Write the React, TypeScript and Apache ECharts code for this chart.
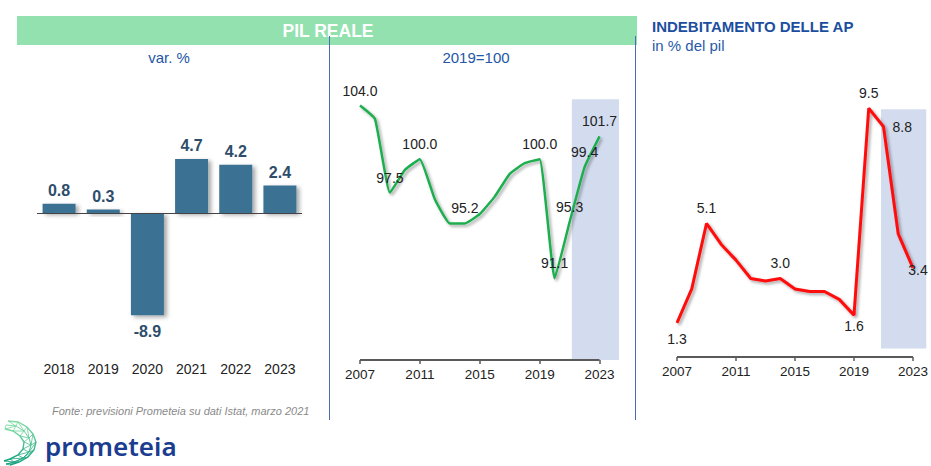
import { useEffect, useRef } from "react";
import * as echarts from "echarts";

// ---------- DATA ----------
const barYears = ["2018", "2019", "2020", "2021", "2022", "2023"];
const pilGrowth = [0.8, 0.3, -8.9, 4.7, 4.2, 2.4];

const lineYears = [2007, 2008, 2009, 2010, 2011, 2012, 2013, 2014, 2015, 2016, 2017, 2018, 2019, 2020, 2021, 2022, 2023];
const pilIndex = [104.0, 103.0, 97.5, 99.2, 100.0, 97.0, 95.2, 95.2, 95.9, 97.2, 98.9, 99.7, 100.0, 91.1, 95.3, 99.4, 101.7];
const pilLabelYears = [2007, 2009, 2011, 2014, 2019, 2020, 2021, 2022, 2023];

const deficit = [1.3, 2.6, 5.1, 4.3, 3.7, 3.0, 2.9, 3.0, 2.6, 2.5, 2.5, 2.2, 1.6, 9.5, 8.8, 4.7, 3.4];
const deficitLabelYears = [2007, 2009, 2014, 2019, 2020, 2021, 2023];

const axisTickYears = [2007, 2011, 2015, 2019, 2023];

const FONT = '"Liberation Sans", Arial, Helvetica, sans-serif';

function deficitLabel(year: number) {
  if (!deficitLabelYears.includes(year)) return { show: false };
  if (year === 2007) return { show: true, position: "bottom", distance: 8 };
  if (year === 2019) return { show: true, position: "bottom", distance: 3 };
  if (year === 2021) return { show: true, position: "right", distance: 8 };
  if (year === 2023) return { show: true, position: "inside", offset: [5, 2] };
  return { show: true, position: "top", distance: 7 };
}

// logo mesh (decorative)
const outerCurve = [[8, 421], [18, 422], [27, 427], [33, 434], [36, 442], [34, 450], [28, 457], [19, 462], [10, 465]];
const midCurve = [[6, 425], [16, 426], [24, 431], [29, 438], [31, 445], [29, 452], [23, 458], [14, 462], [6, 464]];
const innerCurve = [[5, 429], [13, 431], [20, 436], [24, 442], [23, 449], [18, 455], [10, 459], [4, 461]];

const hiddenSymbol = {
  showSymbol: true,
  symbol: "circle",
  symbolSize: 2,
  itemStyle: { color: "rgba(0,0,0,0)", borderWidth: 0 },
};

export default function App() {
  const ref = useRef<HTMLDivElement>(null);

  useEffect(() => {
    if (!ref.current) return;
    const chart = echarts.init(ref.current, undefined, { renderer: "svg" });

    const zigA: number[][] = [];
    const zigB: number[][] = [];
    for (let i = 0; i < innerCurve.length; i++) {
      zigA.push(outerCurve[i]);
      zigA.push(midCurve[i + 1]);
      zigB.push(midCurve[i]);
      zigB.push(innerCurve[i]);
    }
    zigA.push(outerCurve[outerCurve.length - 1]);

    const logoGrad = new echarts.graphic.LinearGradient(0, 0, 0, 1, [
      { offset: 0, color: "#7fdca3" },
      { offset: 1, color: "#14a07e" },
    ]);

    const option: any = {
      animation: false,
      textStyle: { fontFamily: FONT },
      grid: [
        { left: 37, right: 629, top: 144, bottom: 138 },
        { left: 360, right: 312, top: 52, bottom: 106 },
        { left: 677, right: 0, top: 69, bottom: 109 },
      ],
      xAxis: [
        {
          gridIndex: 0,
          type: "category",
          data: barYears,
          axisLine: { show: false, onZero: false },
          axisTick: { show: false },
          axisLabel: { margin: 34, fontSize: 14, color: "#222" },
        },
        {
          gridIndex: 1,
          type: "value",
          min: 2007,
          max: 2024.3,
          splitLine: { show: false },
          axisLine: { show: false, onZero: false },
          axisTick: { show: true, customValues: axisTickYears, length: 4, lineStyle: { color: "#5a5a5a", width: 1.5 } },
          axisLabel: { customValues: axisTickYears, margin: 7, fontSize: 13.5, color: "#222", formatter: (v: number) => String(v) },
        },
        {
          gridIndex: 2,
          type: "value",
          min: 2007,
          max: 2023.9,
          splitLine: { show: false },
          axisLine: { show: false, onZero: false },
          axisTick: { show: true, customValues: axisTickYears, length: 4, lineStyle: { color: "#5a5a5a", width: 1.5 } },
          axisLabel: { customValues: axisTickYears, margin: 7, fontSize: 13.5, color: "#222", formatter: (v: number) => String(v) },
        },
      ],
      yAxis: [
        { gridIndex: 0, type: "value", min: -10, max: 6, show: false },
        { gridIndex: 1, type: "value", min: 85, max: 108, show: false },
        { gridIndex: 2, type: "value", min: 0, max: 11, show: false },
      ],
      series: [
        {
          type: "bar",
          xAxisIndex: 0,
          yAxisIndex: 0,
          barWidth: 33,
          data: pilGrowth.map((v) => ({
            value: v,
            label: { position: v >= 0 ? "top" : "bottom", distance: v >= 0 ? 5 : 8 },
          })),
          itemStyle: {
            color: "#3b7192",
            shadowColor: "rgba(0,0,0,0.35)",
            shadowBlur: 4,
            shadowOffsetX: 3,
            shadowOffsetY: 2,
          },
          label: {
            show: true,
            fontSize: 16,
            fontWeight: "bold",
            color: "#2e4d6b",
            formatter: (p: any) => Number(p.value).toFixed(1),
          },
          markLine: {
            silent: true,
            symbol: "none",
            label: { show: false },
            lineStyle: { color: "#444", width: 1, type: "solid" },
            data: [{ yAxis: 0 }],
          },
        },
        {
          type: "line",
          xAxisIndex: 1,
          yAxisIndex: 1,
          ...hiddenSymbol,
          smooth: 0.12,
          data: lineYears.map((y, i) => ({
            value: [y, pilIndex[i]],
            label: { show: pilLabelYears.includes(y) },
          })),
          lineStyle: {
            color: "#1fae4f",
            width: 2.5,
            shadowColor: "rgba(0,0,0,0.35)",
            shadowBlur: 3,
            shadowOffsetX: 2,
            shadowOffsetY: 2,
          },
          label: {
            position: "top",
            distance: 7,
            fontSize: 14,
            color: "#222",
            formatter: (p: any) => Number(p.value[1]).toFixed(1),
          },
          markArea: {
            silent: true,
            itemStyle: { color: "#d3dcef" },
            data: [[{ coord: [2021.15, 104.48] }, { coord: [2024.3, 85] }]],
          },
          markLine: {
            silent: true,
            symbol: "none",
            label: { show: false },
            lineStyle: { color: "#5a5a5a", width: 2, type: "solid" },
            data: [[{ coord: [2007, 85] }, { coord: [2023, 85] }]],
          },
        },
        {
          type: "line",
          xAxisIndex: 2,
          yAxisIndex: 2,
          ...hiddenSymbol,
          data: lineYears.map((y, i) => ({
            value: [y, deficit[i]],
            label: deficitLabel(y),
          })),
          lineStyle: {
            color: "#ff0a0a",
            width: 3,
            shadowColor: "rgba(0,0,0,0.35)",
            shadowBlur: 3,
            shadowOffsetX: 2,
            shadowOffsetY: 2,
          },
          label: {
            fontSize: 14,
            color: "#222",
            formatter: (p: any) => Number(p.value[1]).toFixed(1),
          },
          markArea: {
            silent: true,
            itemStyle: { color: "#d3dcef" },
            data: [[{ coord: [2020.83, 9.46] }, { coord: [2023.9, 0.32] }]],
          },
          markLine: {
            silent: true,
            symbol: "none",
            label: { show: false },
            lineStyle: { color: "#5a5a5a", width: 2, type: "solid" },
            data: [[{ coord: [2007, 0] }, { coord: [2023, 0] }]],
          },
        },
      ],
      graphic: [
        { type: "rect", shape: { x: 17, y: 16, width: 620, height: 29 }, style: { fill: "#93e1ae" }, z: 1 },
        {
          type: "text",
          x: 328,
          y: 31,
          style: { text: "PIL REALE", fill: "#ffffff", font: `bold 17.5px ${FONT}`, align: "center", verticalAlign: "middle" },
          z: 2,
        },
        { type: "line", shape: { x1: 329.5, y1: 36, x2: 329.5, y2: 420 }, style: { stroke: "#4a6cb5", lineWidth: 1 }, z: 3 },
        { type: "line", shape: { x1: 635.5, y1: 36, x2: 635.5, y2: 420 }, style: { stroke: "#4a6cb5", lineWidth: 1 }, z: 3 },
        {
          type: "text",
          x: 169,
          y: 57,
          style: { text: "var. %", fill: "#2456a6", font: `15px ${FONT}`, align: "center", verticalAlign: "middle" },
        },
        {
          type: "text",
          x: 476,
          y: 57,
          style: { text: "2019=100", fill: "#2456a6", font: `15px ${FONT}`, align: "center", verticalAlign: "middle" },
        },
        {
          type: "text",
          x: 652,
          y: 26,
          style: { text: "INDEBITAMENTO DELLE AP", fill: "#1c4ea0", font: `bold 15px ${FONT}`, align: "left", verticalAlign: "middle" },
        },
        {
          type: "text",
          x: 652,
          y: 45,
          style: { text: "in % del pil", fill: "#2a5aa8", font: `15px ${FONT}`, align: "left", verticalAlign: "middle" },
        },
        {
          type: "text",
          x: 52,
          y: 411,
          style: {
            text: "Fonte: previsioni Prometeia su dati Istat, marzo 2021",
            fill: "#8a8a8a",
            font: `italic 11px ${FONT}`,
            align: "left",
            verticalAlign: "middle",
          },
        },
        {
          type: "text",
          x: 45,
          y: 446,
          style: {
            text: "prometeia",
            fill: "#1b3c8f",
            font: `600 26px "Noto Sans", "Open Sans", sans-serif`,
            align: "left",
            verticalAlign: "middle",
          },
        },
        { type: "polyline", shape: { points: outerCurve }, style: { stroke: logoGrad, lineWidth: 1.4, fill: null } },
        { type: "polyline", shape: { points: midCurve }, style: { stroke: logoGrad, lineWidth: 1, fill: null } },
        { type: "polyline", shape: { points: innerCurve }, style: { stroke: logoGrad, lineWidth: 1.4, fill: null } },
        { type: "polyline", shape: { points: zigA }, style: { stroke: logoGrad, lineWidth: 0.8, fill: null } },
        { type: "polyline", shape: { points: zigB }, style: { stroke: logoGrad, lineWidth: 0.8, fill: null } },
      ],
    };

    chart.setOption(option);
    return () => chart.dispose();
  }, []);

  return (
    <div
      ref={ref}
      style={{ position: "fixed", left: 0, top: 0, width: 931, height: 466, background: "#ffffff" }}
    />
  );
}
